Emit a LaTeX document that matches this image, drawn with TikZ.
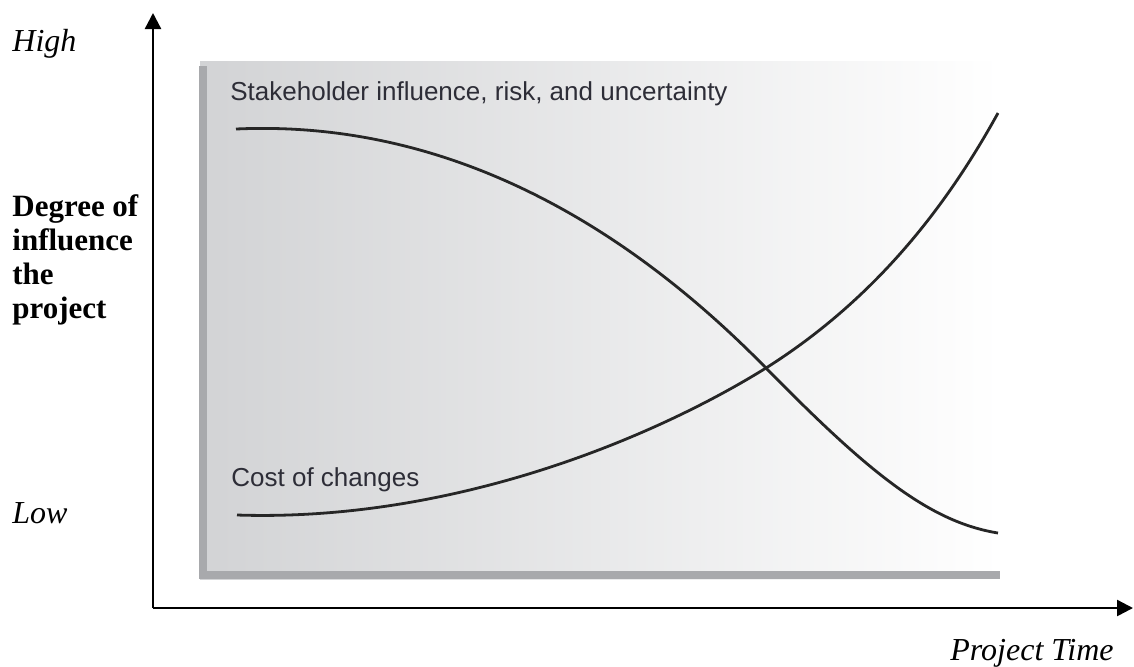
\documentclass[tikz,border=0pt]{standalone}
\usepackage{fontspec}
\setmainfont{Liberation Serif}
\setsansfont{Liberation Sans}
\usetikzlibrary{arrows.meta}
\definecolor{boxgray}{RGB}{210,211,213}
\definecolor{rimgray}{RGB}{168,169,172}
\definecolor{labelgray}{RGB}{45,45,55}

\begin{document}
\begin{tikzpicture}[x=0.5pt,y=-0.5pt,
    axis/.style={line width=1.2pt,-{Triangle[length=8pt,width=8pt]}},
    curve/.style={line width=1.4pt,black!85},
    sidetext/.style={anchor=base west,inner sep=0pt,font=\fontsize{16}{17}\selectfont\itshape},
    curvetext/.style={anchor=base west,inner sep=0pt,text=labelgray,font=\sffamily\fontsize{13}{15}\selectfont}]
    \useasboundingbox (0,0) rectangle (1134,666);
    % shaded panel
    \shade[left color=boxgray,right color=white] (200,61) rectangle (1000,579);
    \fill[rimgray] (199,66) rectangle (207,579);
    \fill[rimgray] (199,571) rectangle (1000,579);
    % axes
    \coordinate (origin) at (153,608);
    \coordinate (ytop) at (153,13);
    \coordinate (xend) at (1133,608);
    \draw[axis] (origin) -- (ytop);
    \draw[axis] (origin) -- (xend);
    % curves
    \coordinate (s0) at (236,129);
    \coordinate (cross) at (766,368);
    \coordinate (s1) at (998,533);
    \coordinate (c0) at (237,515);
    \coordinate (c1) at (998,113);
    \draw[curve] (s0) .. controls (480,118) and (660,260) .. (cross)
        .. controls (870,474) and (930,522) .. (s1);
    \draw[curve] (c0) .. controls (450,522) and (650,440) .. (cross)
        .. controls (880,296) and (950,200) .. (c1);
    % labels
    \node[curvetext] (stake) at (230,100) {Stakeholder influence, risk, and uncertainty};
    \node[curvetext] (cost) at (231,486) {Cost of changes};
    \node[sidetext] (high) at (12,51) {High};
    \node[sidetext] (low) at (12,523) {Low};
    \node[sidetext] (ptime) at (950,660) {Project Time};
    \node[anchor=base west,inner sep=0pt,align=left,
        font=\fontsize{15.5}{17}\selectfont\bfseries] (degree) at (12,318)
        {Degree of\\influence\\the\\project};
\end{tikzpicture}
\end{document}
